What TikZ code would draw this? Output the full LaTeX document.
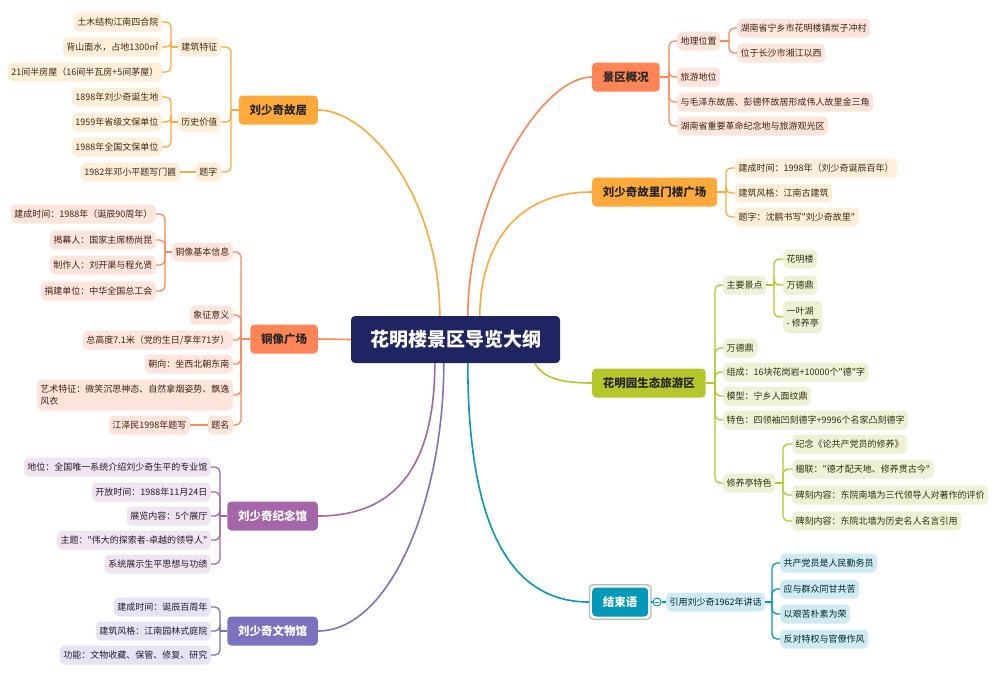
\documentclass[tikz,border=0pt]{standalone}
\usepackage{fontspec}
\setmainfont{Noto Sans CJK SC}[Ligatures=TeXOff]
\usetikzlibrary{calc}
\definecolor{navy}{HTML}{1F2562}
\definecolor{cOr}{HTML}{FFA93A}
\definecolor{lOr}{HTML}{FFEFD9}
\definecolor{cCo}{HTML}{FF8557}
\definecolor{lCo}{HTML}{FEE5DB}
\definecolor{cGr}{HTML}{B6C72B}
\definecolor{lGr}{HTML}{EEF1D6}
\definecolor{cPu}{HTML}{A466A8}
\definecolor{lPu}{HTML}{EFE4EF}
\definecolor{cVi}{HTML}{7B73BF}
\definecolor{lVi}{HTML}{E6E4F3}
\definecolor{cTe}{HTML}{0499B9}
\definecolor{lTe}{HTML}{CFEAF1}
\begin{document}
\begin{tikzpicture}[x=1pt,y=-1pt,
  leaf/.style={rounded corners=5pt, inner xsep=3.5pt, inner ysep=0pt, minimum height=19pt, font=\fontsize{9}{12}\selectfont},
  lo/.style={leaf, fill=lOr, text=cOr!25!black},
  lc/.style={leaf, fill=lCo, text=cCo!25!black},
  lg/.style={leaf, fill=lGr, text=cGr!25!black},
  lp/.style={leaf, fill=lPu, text=cPu!25!black},
  lv/.style={leaf, fill=lVi, text=cVi!25!black},
  lt/.style={leaf, fill=lTe, text=cTe!25!black},
  mainb/.style={rounded corners=4pt, inner xsep=10.75pt, inner ysep=0pt, minimum height=29pt, font=\fontsize{11.5}{14}\selectfont\bfseries},
  link/.style={line width=1.3pt, rounded corners=5pt},
  bigl/.style={line width=1.6pt},
]
\useasboundingbox[fill=white] (0,0) rectangle (1002,678);

% root
\node[fill=navy, text=white, rounded corners=4pt, minimum width=209pt, minimum height=47pt, inner sep=0pt, font=\fontsize{19}{22}\selectfont\bfseries] (root) at (455.5,339.5) {花明楼景区导览大纲};

% main branches
\node[mainb, fill=cOr, text=black!85, anchor=east] (gj) at (318,110) {刘少奇故居};
\node[mainb, fill=cCo, text=black!85, anchor=east] (tx) at (318,339) {铜像广场};
\node[mainb, fill=cPu, text=white, anchor=east] (jn) at (318,516) {刘少奇纪念馆};
\node[mainb, fill=cVi, text=white, anchor=east] (ww) at (318,631) {刘少奇文物馆};
\node[mainb, fill=cCo, text=black!85, anchor=west] (jq) at (592,77) {景区概况};
\node[mainb, fill=cOr, text=black!85, anchor=west] (ml) at (592,192) {刘少奇故里门楼广场};
\node[mainb, fill=cGr, text=black!85, anchor=west] (hm) at (592,383) {花明园生态旅游区};
\node[mainb, fill=cTe, text=white, anchor=west] (js) at (592,602) {结束语};
\draw[gray!55, line width=1.3pt, rounded corners=3.5pt] ([xshift=-2.5pt,yshift=-2.5pt]js.south west) rectangle ([xshift=2.5pt,yshift=2.5pt]js.north east);

% main curves
\draw[bigl, cOr] ([xshift=89pt]root.north west) .. controls +(0,-116) and +(52,0) .. (gj.east);
\draw[bigl, cCo] ([xshift=117pt]root.north west) .. controls +(0,-116) and +(-52,0) .. (jq.west);
\draw[bigl, cOr] ([xshift=129pt]root.north west) .. controls +(0,-56) and +(-87,0) .. (ml.west);
\draw[bigl, cCo] (root.west) -- (tx.east);
\draw[bigl, cPu] ([xshift=84pt]root.south west) .. controls +(0,97) and +(82,0) .. (jn.east);
\draw[bigl, cVi] ([xshift=93pt]root.south west) .. controls +(0,137) and +(72,0) .. (ww.east);
\draw[bigl, cTe] ([xshift=117pt]root.south west) .. controls +(0,157) and +(-82,0) .. ([xshift=-3pt]js.west);
\draw[bigl, cGr] ([xshift=184pt]root.south west) .. controls +(8,15) and +(-30,0) .. (hm.west);

% ---------- 刘少奇故居
\coordinate (gjt) at (231,110);
\node[lo, anchor=east] (gj1) at (221,47) {建筑特征};
\node[lo, anchor=east] (gj2) at (221,122) {历史价值};
\node[lo, anchor=east] (gj3) at (221,172) {题字};
\draw[link, cOr] (gj.west) -- (gjt);
\foreach \n in {gj1,gj2,gj3} \draw[link, cOr] (gjt) |- (\n.east);
\coordinate (gj1t) at (171,47);
\node[lo, anchor=east] (gj11) at (162,22) {土木结构江南四合院};
\node[lo, anchor=east] (gj12) at (162,47) {背山面水，占地1300㎡};
\node[lo, anchor=east] (gj13) at (162,72) {21间半房屋（16间半瓦房+5间茅屋）};
\draw[link, cOr] (gj1.west) -- (gj1t);
\foreach \n in {gj11,gj12,gj13} \draw[link, cOr] (gj1t) |- (\n.east);
\coordinate (gj2t) at (171,122);
\node[lo, anchor=east] (gj21) at (162,97) {1898年刘少奇诞生地};
\node[lo, anchor=east] (gj22) at (162,122) {1959年省级文保单位};
\node[lo, anchor=east] (gj23) at (162,147) {1988年全国文保单位};
\draw[link, cOr] (gj2.west) -- (gj2t);
\foreach \n in {gj21,gj22,gj23} \draw[link, cOr] (gj2t) |- (\n.east);
\node[lo, anchor=east] (gj31) at (180,172) {1982年邓小平题写门匾};
\draw[link, cOr] (gj3.west) -- (gj31.east);

% ---------- 铜像广场
\coordinate (txt) at (241,339);
\node[lc, anchor=east] (tx1) at (233,252) {铜像基本信息};
\node[lc, anchor=east] (tx2) at (233,315) {象征意义};
\node[lc, anchor=east] (tx3) at (233,340) {总高度7.1米（党的生日/享年71岁）};
\node[lc, anchor=east] (tx4) at (233,364) {朝向：坐西北朝东南};
\node[lc, anchor=east, align=left, minimum height=31pt] (tx5) at (233,395) {艺术特征：微笑沉思神态、自然拿烟姿势、飘逸\\风衣};
\node[lc, anchor=east] (tx6) at (233,425) {题名};
\draw[link, cCo] (tx.west) -- (txt);
\foreach \n in {tx1,tx2,tx3,tx4,tx5,tx6} \draw[link, cCo] (txt) |- (\n.east);
\coordinate (tx1t) at (165,252);
\node[lc, anchor=east] (tx11) at (156,214) {建成时间：1988年（诞辰90周年）};
\node[lc, anchor=east] (tx12) at (156,240) {揭幕人：国家主席杨尚昆};
\node[lc, anchor=east] (tx13) at (156,265) {制作人：刘开渠与程允贤};
\node[lc, anchor=east] (tx14) at (156,291) {捐建单位：中华全国总工会};
\draw[link, cCo] (tx1.west) -- (tx1t);
\foreach \n in {tx11,tx12,tx13,tx14} \draw[link, cCo] (tx1t) |- (\n.east);
\node[lc, anchor=east] (tx61) at (190,425) {江泽民1998年题写};
\draw[link, cCo] (tx6.west) -- (tx61.east);

% ---------- 刘少奇纪念馆
\coordinate (jnt) at (220,516);
\node[lp, anchor=east] (jn1) at (211,467) {地位：全国唯一系统介绍刘少奇生平的专业馆};
\node[lp, anchor=east] (jn2) at (211,492) {开放时间：1988年11月24日};
\node[lp, anchor=east] (jn3) at (211,516) {展览内容：5个展厅};
\node[lp, anchor=east] (jn4) at (211,540) {主题："伟大的探索者-卓越的领导人"};
\node[lp, anchor=east] (jn5) at (211,564) {系统展示生平思想与功绩};
\draw[link, cPu] (jn.west) -- (jnt);
\foreach \n in {jn1,jn2,jn3,jn4,jn5} \draw[link, cPu] (jnt) |- (\n.east);

% ---------- 刘少奇文物馆
\coordinate (wwt) at (220,631);
\node[lv, anchor=east] (ww1) at (211,607) {建成时间：诞辰百周年};
\node[lv, anchor=east] (ww2) at (211,631) {建筑风格：江南园林式庭院};
\node[lv, anchor=east] (ww3) at (211,655) {功能：文物收藏、保管、修复、研究};
\draw[link, cVi] (ww.west) -- (wwt);
\foreach \n in {ww1,ww2,ww3} \draw[link, cVi] (wwt) |- (\n.east);

% ---------- 景区概况
\coordinate (jqt) at (669,77);
\node[lc, anchor=west] (jq1) at (677,41) {地理位置};
\node[lc, anchor=west] (jq2) at (677,77) {旅游地位};
\node[lc, anchor=west] (jq3) at (677,102) {与毛泽东故居、彭德怀故居形成伟人故里金三角};
\node[lc, anchor=west] (jq4) at (677,126) {湖南省重要革命纪念地与旅游观光区};
\draw[link, cCo] (jq.east) -- (jqt);
\foreach \n in {jq1,jq2,jq3,jq4} \draw[link, cCo] (jqt) |- (\n.west);
\coordinate (jq1t) at (729,41);
\node[lc, anchor=west] (jq11) at (737,28) {湖南省宁乡市花明楼镇炭子冲村};
\node[lc, anchor=west] (jq12) at (737,53) {位于长沙市湘江以西};
\draw[link, cCo] (jq1.east) -- (jq1t);
\foreach \n in {jq11,jq12} \draw[link, cCo] (jq1t) |- (\n.west);

% ---------- 刘少奇故里门楼广场
\coordinate (mlt) at (726,192);
\node[lo, anchor=west] (ml1) at (735,168) {建成时间：1998年（刘少奇诞辰百年）};
\node[lo, anchor=west] (ml2) at (735,193) {建筑风格：江南古建筑};
\node[lo, anchor=west] (ml3) at (735,217) {题字：沈鹏书写"刘少奇故里"};
\draw[link, cOr] (ml.east) -- (mlt);
\foreach \n in {ml1,ml2,ml3} \draw[link, cOr] (mlt) |- (\n.west);

% ---------- 花明园生态旅游区
\coordinate (hmt) at (715,383);
\node[lg, anchor=west] (hm1) at (723,285) {主要景点};
\node[lg, anchor=west] (hm2) at (723,348) {万德鼎};
\node[lg, anchor=west] (hm3) at (723,372) {组成：16块花岗岩+10000个"德"字};
\node[lg, anchor=west] (hm4) at (723,396) {模型：宁乡人面纹鼎};
\node[lg, anchor=west] (hm5) at (723,420) {特色：四领袖凹刻德字+9996个名家凸刻德字};
\node[lg, anchor=west] (hm6) at (723,483) {修养亭特色};
\draw[link, cGr] (hm.east) -- (hmt);
\foreach \n in {hm1,hm2,hm3,hm4,hm5,hm6} \draw[link, cGr] (hmt) |- (\n.west);
\coordinate (hm1t) at (774,285);
\node[lg, anchor=west] (hm11) at (783,259) {花明楼};
\node[lg, anchor=west] (hm12) at (783,285) {万德鼎};
\node[lg, anchor=west, align=left, minimum height=32pt] (hm13) at (783,317) {一叶湖\\- 修养亭};
\draw[link, cGr] (hm1.east) -- (hm1t);
\foreach \n in {hm11,hm12,hm13} \draw[link, cGr] (hm1t) |- (\n.west);
\coordinate (hm6t) at (783,483);
\node[lg, anchor=west] (hm61) at (792,444) {纪念《论共产党员的修养》};
\node[lg, anchor=west] (hm62) at (792,469) {楹联："德才配天地、修养贯古今"};
\node[lg, anchor=west] (hm63) at (792,495) {碑刻内容：东院南墙为三代领导人对著作的评价};
\node[lg, anchor=west] (hm64) at (792,521) {碑刻内容：东院北墙为历史名人名言引用};
\draw[link, cGr] (hm6.east) -- (hm6t);
\foreach \n in {hm61,hm62,hm63,hm64} \draw[link, cGr] (hm6t) |- (\n.west);

% ---------- 结束语
\node[circle, draw=cTe, fill=white, line width=1pt, minimum size=8pt, inner sep=0pt] (cc) at (657,602) {};
\draw[cTe, line width=0.8pt] ([xshift=-2.3pt]cc.center) -- ([xshift=2.3pt]cc.center);
\node[lt, anchor=west] (js1) at (666,602) {引用刘少奇1962年讲话};
\draw[link, cTe] ([xshift=2.5pt]js.east) -- (cc.west);
\draw[link, cTe] (cc.east) -- (js1.west);
\coordinate (js1t) at (772,602);
\node[lt, anchor=west] (js11) at (780,563) {共产党员是人民勤务员};
\node[lt, anchor=west] (js12) at (780,589) {应与群众同甘共苦};
\node[lt, anchor=west] (js13) at (780,614) {以艰苦朴素为荣};
\node[lt, anchor=west] (js14) at (780,639) {反对特权与官僚作风};
\draw[link, cTe] (js1.east) -- (js1t);
\foreach \n in {js11,js12,js13,js14} \draw[link, cTe] (js1t) |- (\n.west);
\end{tikzpicture}
\end{document}
